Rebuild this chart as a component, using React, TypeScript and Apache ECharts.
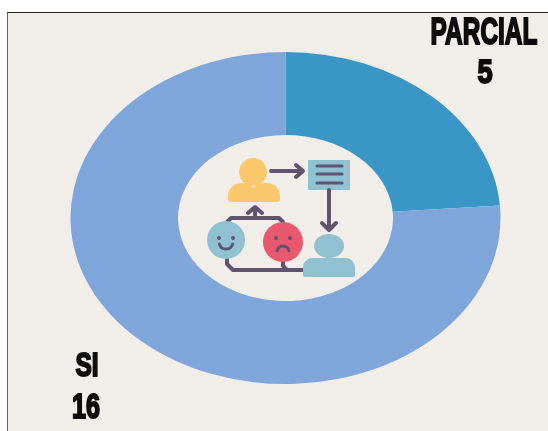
import React, { useEffect, useRef } from "react";
import * as echarts from "echarts";

const names = ["PARCIAL", "SI"];
const values = [5, 16];
const colors = ["#3a96c6", "#7fa6da"];

const CX = 285.5;
const CY = 218;
const STRETCH = 215 / 166;
const DARK = "#5f5470";
const YELLOW = "#fbc96b";
const TEAL = "#8fc1d0";

const p = (x: number, y: number) => [x - CX, y - CY];
const circle = (x: number, y: number, r: number, fill: string) => ({
  type: "circle", shape: { cx: x - CX, cy: y - CY, r }, style: { fill },
});
const rect = (x: number, y: number, w: number, h: number, fill: string, r: any = 0) => ({
  type: "rect", shape: { x: x - CX, y: y - CY, width: w, height: h, r }, style: { fill },
});
const stroke = (points: number[][], width = 4, color = DARK) => ({
  type: "polyline",
  shape: { points: points.map(([x, y]) => p(x, y)) },
  style: { stroke: color, lineWidth: width, fill: "none", lineJoin: "round", lineCap: "round" },
});
const arc = (x: number, y: number, r: number, a: number, b: number) => ({
  type: "arc",
  shape: { cx: x - CX, cy: y - CY, r, startAngle: a, endAngle: b, clockwise: true },
  style: { stroke: DARK, lineWidth: 3, fill: "none", lineCap: "round" },
});
const bigText = (text: string, x: number, y: number, size: number, sx: number) => ({
  type: "text",
  x: x - CX,
  y: y - CY,
  scaleX: sx,
  style: {
    text, x: 0, y: 0, fill: "#0c0c0c", stroke: "#0c0c0c", lineWidth: 2,
    font: `bold ${size}px "Liberation Sans", Arial, sans-serif`,
    align: "center", verticalAlign: "middle",
  },
});

const icon = [
  circle(253, 172, 14, YELLOW),
  rect(228, 183, 28, 19, YELLOW, [13, 13, 3, 3]),
  rect(251, 183, 29, 19, YELLOW, [13, 13, 3, 3]),
  stroke([[271, 171], [301, 171]]),
  stroke([[296, 165], [303, 171], [296, 177]]),
  rect(308, 160, 42, 30, TEAL),
  stroke([[317, 166], [342, 166]], 3),
  stroke([[317, 174], [342, 174]], 3),
  stroke([[317, 183], [342, 183]], 3),
  stroke([[329, 190], [329, 228]]),
  stroke([[322, 223], [329, 230], [336, 223]]),
  stroke([[227, 227], [227, 222], [231, 218], [279, 218], [283, 222], [283, 227]]),
  stroke([[255, 218], [255, 208]]),
  stroke([[248, 213], [255, 207], [262, 213]]),
  stroke([[227, 255], [227, 264], [233, 270], [305, 270]]),
  stroke([[283, 258], [283, 266], [287, 270]]),
  circle(226, 240, 19, TEAL),
  circle(219, 238, 2, DARK),
  circle(233, 238, 2, DARK),
  arc(226, 242, 7, 0.3, Math.PI - 0.3),
  circle(283, 242, 20, "#e8596e"),
  circle(276, 238, 2, DARK),
  circle(290, 238, 2, DARK),
  arc(283, 252, 6, Math.PI + 0.2, -0.2),
  { type: "ellipse", shape: { cx: 329 - CX, cy: 246 - CY, rx: 15, ry: 12 }, style: { fill: TEAL } },
  rect(303, 258, 52, 19, TEAL, [9, 9, 2, 2]),
];

export default function App() {
  const ref = useRef<HTMLDivElement>(null);
  useEffect(() => {
    const chart = echarts.init(ref.current!, undefined, { renderer: "svg" });
    chart.setOption({
      animation: false,
      series: [
        {
          type: "pie",
          center: [CX, CY],
          radius: [83, 166],
          startAngle: 90,
          clockwise: true,
          silent: true,
          label: { show: false },
          labelLine: { show: false },
          data: names.map((name, i) => ({
            name,
            value: values[i],
            itemStyle: { color: colors[i] },
          })),
        },
      ],
      graphic: [
        {
          type: "group",
          x: CX,
          y: CY,
          scaleX: 1 / STRETCH,
          silent: true,
          children: [
            ...icon,
            bigText(names[0], 484, 32, 37, 0.66),
            bigText(String(values[0]), 485, 71, 34, 0.8),
            bigText(names[1], 87, 364, 34, 0.72),
            bigText(String(values[1]), 86, 405, 35, 0.72),
          ],
        },
      ],
    });
    return () => chart.dispose();
  }, []);
  return (
    <div style={{ position: "absolute", left: 0, top: 0, width: 548, height: 431, overflow: "hidden", background: "#fff" }}>
      <div
        style={{
          position: "absolute", left: 7, top: 12, width: 541, height: 419, boxSizing: "border-box",
          background: "#f1eeea", borderTop: "1px solid #222", borderLeft: "1px solid #666",
        }}
      />
      <div
        ref={ref}
        style={{
          position: "absolute", left: 0, top: 0, width: 548, height: 431,
          transformOrigin: `${CX}px ${CY}px`,
          transform: `scaleX(${STRETCH})`,
          filter: "blur(0.6px)",
        }}
      />
    </div>
  );
}
